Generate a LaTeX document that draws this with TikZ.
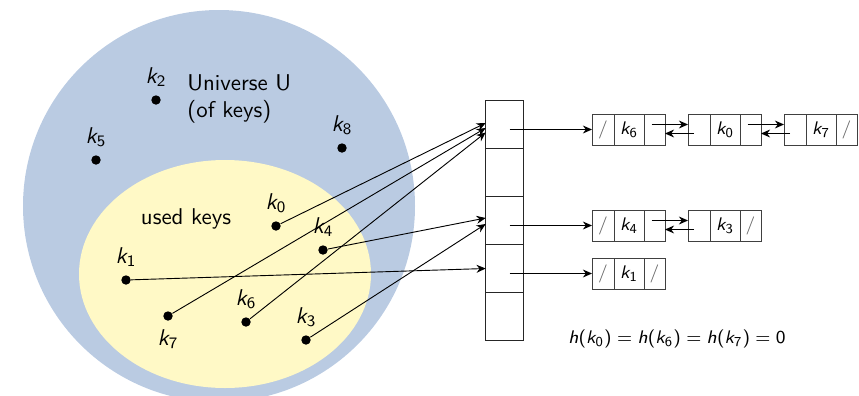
\documentclass[tikz,border=0pt]{standalone}
\usetikzlibrary{positioning,calc,arrows.meta}
\renewcommand{\familydefault}{\sfdefault}
% sans serif math letters and digits
\DeclareSymbolFont{letters}{OT1}{cmss}{m}{sl}
\DeclareSymbolFont{operators}{OT1}{cmss}{m}{n}
\definecolor{universe}{RGB}{186,203,226}
\definecolor{used}{RGB}{255,249,198}
\tikzset{
  keydot/.style={circle,fill=black,inner sep=0pt,minimum size=0.145cm,label distance=-1.5pt},
  slot/.style={draw=black!85,minimum width=0.58cm,minimum height=0.739cm,inner sep=0pt,outer sep=0pt},
  cell/.style={draw=black!75,minimum height=0.477cm,inner sep=0pt,outer sep=0pt,font=\footnotesize},
  prevcell/.style={cell,minimum width=0.339cm,text=black!60},
  keycell/.style={cell,minimum width=0.462cm},
  nextcell/.style={cell,minimum width=0.323cm,text=black!60},
  ptr/.style={-{Stealth[length=4pt,width=3.5pt]}},
}
\begin{document}
\begin{tikzpicture}[x=0.0154cm,y=-0.0154cm]
  \useasboundingbox (0,0) rectangle (859,396);
  \clip (0,0) rectangle (859,396);
  % Universe and used keys
  \fill[universe] (219,206) circle[radius=196];
  \fill[used] (225,274) ellipse[x radius=146,y radius=114];
  \node[align=left,anchor=west,inner sep=0pt] (univ) at (187,99) {Universe U\\(of keys)};
  \node (usedlbl) at (186,219) {used keys};
  % Keys
  \node[keydot,label={above:$k_2$}] (k2) at (156,100) {};
  \node[keydot,label={above:$k_5$}] (k5) at (96,160) {};
  \node[keydot,label={above:$k_8$}] (k8) at (342,148) {};
  \node[keydot,label={above:$k_0$}] (k0) at (276,226) {};
  \node[keydot,label={above:$k_4$}] (k4) at (323,250) {};
  \node[keydot,label={above:$k_1$}] (k1) at (126,280) {};
  \node[keydot,label={below:$k_7$}] (k7) at (168,316) {};
  \node[keydot,label={above:$k_6$}] (k6) at (246,322) {};
  \node[keydot,label={above:$k_3$}] (k3) at (306,340) {};
  % Hash table
  \node[slot] (s0) at (504.5,124.5) {};
  \node[slot,below=0pt of s0] (s1) {};
  \node[slot,below=0pt of s1] (s2) {};
  \node[slot,below=0pt of s2] (s3) {};
  \node[slot,below=0pt of s3] (s4) {};
  % Keys to slots
  \draw[ptr] (k0) -- ($(s0.west)+(0,-1.5)$);
  \draw[ptr] (k7) -- ($(s0.west)+(0,3.5)$);
  \draw[ptr] (k6) -- ($(s0.west)+(0,8)$);
  \draw[ptr] (k4) -- ($(s2.west)+(0,-2.5)$);
  \draw[ptr] (k3) -- ($(s2.west)+(0,3.5)$);
  \draw[ptr] (k1) -- ($(s3.west)+(0,0)$);
  % Chain of slot 0
  \node[prevcell,anchor=west] (k6p) at (592,129.5) {/};
  \node[keycell,right=0pt of k6p] (k6k) {$k_6$};
  \node[nextcell,right=0pt of k6k] (k6n) {};
  \node[prevcell,right=0.354cm of k6n] (k0p) {};
  \node[keycell,right=0pt of k0p] (k0k) {$k_0$};
  \node[nextcell,right=0pt of k0k] (k0n) {};
  \node[prevcell,right=0.354cm of k0n] (k7p) {};
  \node[keycell,right=0pt of k7p] (k7k) {$k_7$};
  \node[nextcell,right=0pt of k7k] (k7n) {/};
  % Chain of slot 2
  \node[prevcell,anchor=west] (k4p) at (592,225.5) {/};
  \node[keycell,right=0pt of k4p] (k4k) {$k_4$};
  \node[nextcell,right=0pt of k4k] (k4n) {};
  \node[prevcell,right=0.354cm of k4n] (k3p) {};
  \node[keycell,right=0pt of k3p] (k3k) {$k_3$};
  \node[nextcell,right=0pt of k3k] (k3n) {/};
  % Chain of slot 3
  \node[prevcell,anchor=west] (k1p) at (592,273.5) {/};
  \node[keycell,right=0pt of k1p] (k1k) {$k_1$};
  \node[nextcell,right=0pt of k1k] (k1n) {/};
  % Slot pointers
  \draw[ptr] ($(s0.center |- k6p.west)+(5,0)$) -- (k6p.west);
  \draw[ptr] ($(s2.center |- k4p.west)+(5,0)$) -- (k4p.west);
  \draw[ptr] ($(s3.center |- k1p.west)+(5,0)$) -- (k1p.west);
  % Next and prev pointers
  \draw[ptr] ($(k6n.center)+(-3,-5)$) -- ($(k0p.west)+(0,-5)$);
  \draw[ptr] ($(k0p.center)+(-5,4)$) -- ($(k6n.east)+(0,4)$);
  \draw[ptr] ($(k0n.center)+(-3,-5)$) -- ($(k7p.west)+(0,-5)$);
  \draw[ptr] ($(k7p.center)+(-5,4)$) -- ($(k0n.east)+(0,4)$);
  \draw[ptr] ($(k4n.center)+(-3,-5)$) -- ($(k3p.west)+(0,-5)$);
  \draw[ptr] ($(k3p.center)+(-5,4)$) -- ($(k4n.east)+(0,4)$);
  % Hash values
  \node[font=\footnotesize] (hval) at (677,339) {$h(k_0)=h(k_6)=h(k_7)=0$};
\end{tikzpicture}
\end{document}
